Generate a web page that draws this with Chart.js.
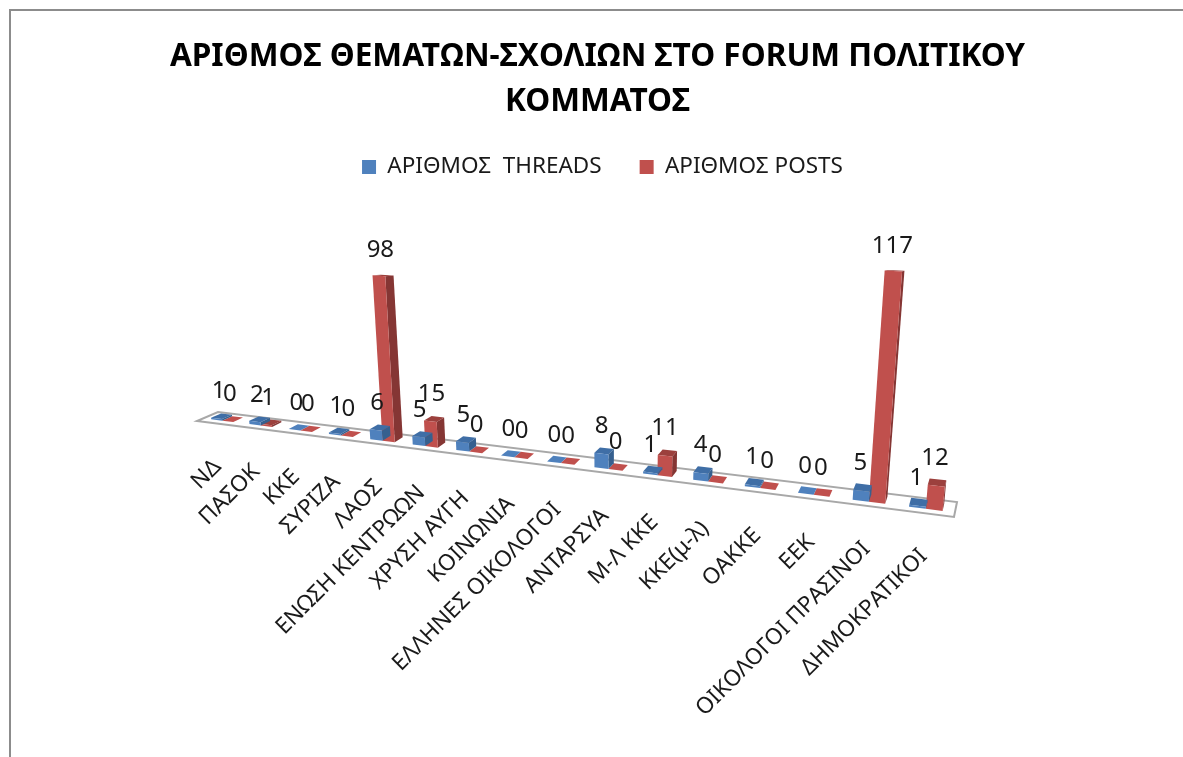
<!DOCTYPE html>
<html><head><meta charset="utf-8">
<style>html,body{margin:0;padding:0;background:#fff}canvas{display:block}</style>
<script src="https://cdn.jsdelivr.net/npm/chart.js@4"></script>
</head><body><canvas id="c" width="1183" height="757"></canvas>
<script>
const categories=["ΝΔ","ΠΑΣΟΚ","ΚΚΕ","ΣΥΡΙΖΑ","ΛΑΟΣ","ΕΝΩΣΗ ΚΕΝΤΡΩΩΝ","ΧΡΥΣΗ ΑΥΓΗ","ΚΟΙΝΩΝΙΑ","ΕΛΛΗΝΕΣ ΟΙΚΟΛΟΓΟΙ","ΑΝΤΑΡΣΥΑ","Μ-Λ ΚΚΕ","ΚΚΕ(μ-λ)","ΟΑΚΚΕ","ΕΕΚ","ΟΙΚΟΛΟΓΟΙ ΠΡΑΣΙΝΟΙ","ΔΗΜΟΚΡΑΤΙΚΟΙ"];
const threads=[1,2,0,1,6,5,5,0,0,8,1,4,1,0,5,1];
const posts=[0,1,0,0,98,15,0,0,0,0,11,0,0,0,117,12];
const titleLines=["ΑΡΙΘΜΟΣ ΘΕΜΑΤΩΝ-ΣΧΟΛΙΩΝ ΣΤΟ FORUM ΠΟΛΙΤΙΚΟΥ","ΚΟΜΜΑΤΟΣ"];
const FONT='"Noto Sans", sans-serif';
let chartRef=null;

// perspective view of the chart's floor: plot-area fraction t -> screen
function project(t,value,d){
  const r=1.25,u=t/(t+r*(1-t));
  const fx=197+757*u, fy=421+96*u, dvx=21-18*u, dvy=-9-6*u;
  const H=value*(1.61+0.45*u);
  const bx=fx+d*dvx;
  const shrink=Math.max(0.1,1-H/(fy-265));
  return {x:bx+(bx-610)*0.00026*H, y:fy+d*dvy*shrink-H};
}
function fraction(chart,x){const a=chart.scales.x;return (x-a.left)/(a.right-a.left);}
function unitValue(chart,el){const s=chart.scales.y;return (el.base-el.y)/Math.abs(s.getPixelForValue(1)-s.getPixelForValue(0));}
const shades={ "#4f81bd":{side:"#36608f",top:"#3f6ea6"}, "#c0504d":{side:"#853634",top:"#9c403d"} };
function poly(ctx,pts,fill){ctx.beginPath();pts.forEach((p,i)=>i?ctx.lineTo(p.x,p.y):ctx.moveTo(p.x,p.y));ctx.closePath();ctx.fillStyle=fill;ctx.fill();}

class Bar3D extends Chart.BarElement{
  draw(ctx){
    const chart=chartRef, o=this.options, v=unitValue(chart,this);
    const tl=fraction(chart,this.x-this.width/2), tr=fraction(chart,this.x+this.width/2);
    const d0=0.3,d1=0.78, s=shades[o.backgroundColor];
    const P=project;
    poly(ctx,[P(tl,v,d0),P(tr,v,d0),P(tr,v,d1),P(tl,v,d1)],v===0?o.backgroundColor:s.top);
    poly(ctx,[P(tr,0,d0),P(tr,0,d1),P(tr,v,d1),P(tr,v,d0)],s.side);
    if(v>0) poly(ctx,[P(tl,0,d0),P(tr,0,d0),P(tr,v,d0),P(tl,v,d0)],o.backgroundColor);
  }
}
Bar3D.id='bar3d';
class Bar3DController extends Chart.BarController{}
Bar3DController.id='bar3d';
Bar3DController.defaults=Object.assign({},Chart.BarController.defaults,{dataElementType:'bar3d'});
Chart.register(Bar3D,Bar3DController);

const scene={
  id:'scene',
  beforeInit(chart){ chartRef=chart; },
  afterLayout(chart){ const l=chart.legend; l.left+=5; l.right+=5; l.top-=7; l.bottom-=7; },
  beforeDraw(chart){
    const c=chart.ctx;
    c.save();c.fillStyle='#fff';c.fillRect(0,0,chart.width,chart.height);
    c.strokeStyle='#8c8c8c';c.lineWidth=2;c.beginPath();c.moveTo(10,chart.height);c.lineTo(10,10);c.lineTo(chart.width,10);c.stroke();c.restore();
    const xs=chart.scales.x;
    xs._computeLabelArea=()=>undefined;
    xs.getLabelItems().forEach(it=>{
      if(it._placed)return;
      const tr=it.options.translation, p=project(fraction(chart,tr[0]),0,0);
      tr[0]=p.x-3;tr[1]=p.y+31;it._placed=true;
    });
  },
  beforeDatasetsDraw(chart){
    const c=chart.ctx;
    const pts=[project(0,0,0),project(1,0,0),project(1,0,1),project(0,0,1)];
    c.save();c.beginPath();pts.forEach((p,i)=>i?c.lineTo(p.x,p.y):c.moveTo(p.x,p.y));c.closePath();
    c.fillStyle='#fff';c.fill();c.strokeStyle='#a8a8a8';c.lineWidth=2;c.stroke();c.restore();
  },
  afterDatasetsDraw(chart){
    const c=chart.ctx;
    c.save();c.font='24px '+FONT;c.fillStyle='#1a1a1a';c.textAlign='center';c.textBaseline='middle';
    chart.data.datasets.forEach((ds,i)=>{
      chart.getDatasetMeta(i).data.forEach((el,j)=>{
        const p=project(fraction(chart,el.x),unitValue(chart,el),0.5);
        c.fillText(String(ds.data[j]),p.x-2,p.y-25);
      });
    });
    c.restore();
  }
};

new Chart(document.getElementById('c'),{
  type:'bar3d',
  data:{labels:categories,datasets:[
    {label:"ΑΡΙΘΜΟΣ  THREADS",data:threads,backgroundColor:"#4f81bd",clip:false,categoryPercentage:0.58,barPercentage:1},
    {label:"ΑΡΙΘΜΟΣ POSTS",data:posts,backgroundColor:"#c0504d",clip:false,categoryPercentage:0.58,barPercentage:1}
  ]},
  options:{
    responsive:false,animation:false,
    layout:{padding:{left:12,top:35,bottom:10}},
    plugins:{
      title:{display:true,text:titleLines,color:'#000',font:{family:FONT,size:31.6,weight:'bold',lineHeight:1.42},padding:{top:0,bottom:0}},
      legend:{display:true,position:'top',labels:{color:'#1a1a1a',font:{family:FONT,size:22.5},boxWidth:14,boxHeight:14,padding:38}},
      tooltip:{enabled:false}
    },
    scales:{
      x:{type:'category',offset:true,grid:{display:false},border:{display:false},
         ticks:{autoSkip:false,minRotation:45,maxRotation:45,color:'#1a1a1a',font:{family:FONT,size:22.5}}},
      y:{type:'linear',display:false,min:0,max:120}
    }
  },
  plugins:[scene]
});
</script></body></html>
